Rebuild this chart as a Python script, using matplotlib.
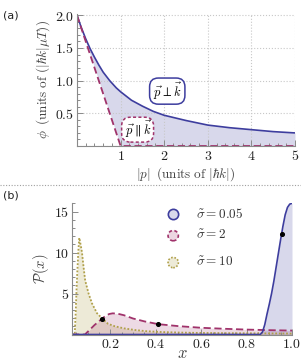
import matplotlib
matplotlib.use("Agg")
import matplotlib.pyplot as plt
import numpy as np
from matplotlib.lines import Line2D
from matplotlib.ticker import MultipleLocator, FuncFormatter

plt.rcParams["mathtext.fontset"] = "cm"

# panel (a): phase vs momentum
p_perp = [0, 0.1, 0.2, 0.3, 0.4, 0.5, 0.6, 0.75, 0.9, 1.0, 1.25, 1.5, 1.75,
          2.0, 2.5, 3.0, 3.5, 4.0, 4.5, 5.0]
phi_perp = [2.0, 1.81, 1.64, 1.49, 1.36, 1.24, 1.13, 1.0, 0.89, 0.83, 0.70,
            0.61, 0.53, 0.47, 0.39, 0.32, 0.28, 0.25, 0.22, 0.20]
p_par = [0, 1.0, 5.0]
phi_par = [2.0, 0.0, 0.0]

# panel (b): distributions
x_s005 = [0.031, 0.86, 0.87, 0.88, 0.89, 0.90, 0.91, 0.92, 0.93, 0.94, 0.95,
          0.96, 0.97, 0.98, 0.99, 1.0]
y_s005 = [0, 0, 0.3, 1.2, 2.5, 3.7, 5.0, 6.5, 8.2, 9.9, 11.6, 13.2, 14.6,
          15.5, 15.9, 16.0]
x_s2 = [0.031, 0.088, 0.11, 0.13, 0.15, 0.164, 0.18, 0.195, 0.21, 0.23, 0.26,
        0.3, 0.35, 0.411, 0.5, 0.6, 0.7, 0.8, 0.9, 1.0]
y_s2 = [0, 0, 0.6, 1.15, 1.62, 1.95, 2.3, 2.5, 2.58, 2.55, 2.35, 1.95, 1.6,
        1.26, 1.02, 0.82, 0.7, 0.6, 0.53, 0.48]
x_s10 = [0.031, 0.043, 0.047, 0.051, 0.055, 0.059, 0.063, 0.068, 0.075, 0.082,
         0.089, 0.104, 0.119, 0.141, 0.164, 0.19, 0.22, 0.26, 0.308, 0.36,
         0.426, 0.5, 0.6, 0.73, 0.85, 1.0]
y_s10 = [0, 0, 2.5, 5.5, 8.0, 10.2, 11.8, 11.1, 10.0, 8.2, 6.6, 5.0, 3.8, 2.6,
         1.95, 1.3, 1.0, 0.75, 0.55, 0.4, 0.3, 0.24, 0.19, 0.16, 0.14, 0.12]
dots_x = [0.164, 0.411, 0.955]
dots_y = [1.95, 1.26, 12.3]
labels = [r"$\tilde{\sigma} = 0.05$", r"$\tilde{\sigma} = 2$", r"$\tilde{\sigma} = 10$"]

blue = "#3d3d9e"
maroon = "#a0336b"
olive = "#b0a04a"
axcol = "#8a8a8a"


def cm_fmt(v, pos):
    if abs(v) < 1e-9:
        return ""
    return "$%.1f$" % v


def cm_int(v, pos):
    if abs(v) < 1e-9:
        return ""
    return "$%d$" % round(v)


def style(ax):
    for s in ["top", "right"]:
        ax.spines[s].set_visible(False)
    for s in ["left", "bottom"]:
        ax.spines[s].set_color(axcol)
        ax.spines[s].set_linewidth(0.8)
    ax.tick_params(which="both", direction="in", color=axcol, labelsize=10,
                   labelcolor="#222222", width=0.7)
    ax.tick_params(which="major", length=4, pad=2)
    ax.tick_params(which="minor", length=2)


fig = plt.figure(figsize=(3.01, 3.63), dpi=100)

# ---- (a)
ax1 = fig.add_axes([77 / 301, 1 - 146 / 363, 218 / 301, 132 / 363])
lower = np.interp(p_perp, p_par, phi_par)
ax1.fill_between(p_perp, phi_perp, lower, color=blue, alpha=0.2, lw=0)
ax1.plot(p_perp, phi_perp, color=blue, lw=1.2, solid_capstyle="butt")
ax1.plot(p_par, phi_par, color=maroon, lw=1.3, ls=(0, (4, 2)))
ax1.set_xlim(0, 5)
ax1.set_ylim(0, 2.02)
ax1.xaxis.set_major_locator(MultipleLocator(1))
ax1.xaxis.set_minor_locator(MultipleLocator(0.2))
ax1.yaxis.set_major_locator(MultipleLocator(0.5))
ax1.yaxis.set_minor_locator(MultipleLocator(0.1))
ax1.xaxis.set_major_formatter(FuncFormatter(cm_int))
ax1.yaxis.set_major_formatter(FuncFormatter(cm_fmt))
ax1.grid(True, which="major", ls=":", color="#c8c8c8", lw=0.8)
style(ax1)
ax1.set_xlabel(r"$|p|\;\;(\mathrm{units\ of\ }|\hbar k|)$", fontsize=9.5,
               color="#444444", labelpad=2)
ax1.set_ylabel(r"$\phi\;\;(\mathrm{units\ of\ }(|\hbar k|\mu T))$",
               fontsize=9.5, color="#444444", labelpad=2)
ax1.text(2.07, 0.84, r"$\,\vec{p}\perp\vec{k}\,$", fontsize=9, ha="center",
         va="center",
         bbox=dict(boxstyle="round,pad=0.2,rounding_size=0.7", fc="white",
                   ec=blue, lw=1.1))
ax1.text(1.39, 0.25, r"$\,\vec{p}\parallel\vec{k}\,$", fontsize=9, ha="center",
         va="center",
         bbox=dict(boxstyle="round,pad=0.15,rounding_size=0.7", fc="white",
                   ec=maroon, lw=1.1, ls=(0, (2, 1.5))))

# ---- (b)
ax2 = fig.add_axes([72 / 301, 1 - 334.5 / 363, 220 / 301, 132 / 363])
ax2.fill_between(x_s10, y_s10, color=olive, alpha=0.22, lw=0)
ax2.fill_between(x_s2, y_s2, color=maroon, alpha=0.18, lw=0)
ax2.fill_between(x_s005, y_s005, color=blue, alpha=0.2, lw=0)
ax2.plot(x_s10, y_s10, color=olive, lw=1.3, ls=(0, (1, 1)))
ax2.plot(x_s2, y_s2, color=maroon, lw=1.3, ls=(0, (4, 2)))
ax2.plot(x_s005, y_s005, color=blue, lw=1.2)
ax2.scatter(dots_x, dots_y, s=7, color="black", zorder=5)
ax2.set_xlim(0.031, 1.0)
ax2.set_ylim(0, 16.1)
ax2.xaxis.set_major_locator(MultipleLocator(0.2))
ax2.xaxis.set_minor_locator(MultipleLocator(0.05))
ax2.yaxis.set_major_locator(MultipleLocator(5))
ax2.yaxis.set_minor_locator(MultipleLocator(1))
ax2.xaxis.set_major_formatter(FuncFormatter(cm_fmt))
ax2.yaxis.set_major_formatter(FuncFormatter(cm_int))
style(ax2)
ax2.set_xlabel(r"$x$", fontsize=12, color="#444444", labelpad=-5)
ax2.set_ylabel(r"$\mathcal{P}(x)$", fontsize=10.5, color="#444444", labelpad=2)

# legend drawn by hand so the marker edges keep the line styles
leg_y = [0.916, 0.749, 0.545]
leg_fc = [(0.24, 0.24, 0.62, 0.2), (0.63, 0.2, 0.42, 0.2), (0.69, 0.63, 0.29, 0.22)]
leg_ec = [blue, maroon, olive]
leg_ls = ["-", (0, (2, 1.5)), (0, (1, 1))]
for yy, fc, ec, ls, lab in zip(leg_y, leg_fc, leg_ec, leg_ls, labels):
    ax2.scatter([0.46], [yy], s=55, transform=ax2.transAxes, facecolor=fc,
                edgecolor=ec, linewidths=1.2, linestyle=ls, clip_on=False,
                zorder=6)
    ax2.text(0.564, yy, lab, transform=ax2.transAxes, fontsize=9.5,
             va="center", ha="left", color="#333333")

# panel letters and separator
fig.text(3 / 301, 1 - 15 / 363, "(a)", fontsize=8, va="center", color="#222222")
fig.text(3 / 301, 1 - 195 / 363, "(b)", fontsize=8, va="center", color="#222222")
fig.add_artist(Line2D([0, 1], [1 - 185 / 363] * 2, ls=(0, (1, 1.5)),
                      color="#a0a0a0", lw=0.8))

fig.savefig("out.png", dpi=100)
